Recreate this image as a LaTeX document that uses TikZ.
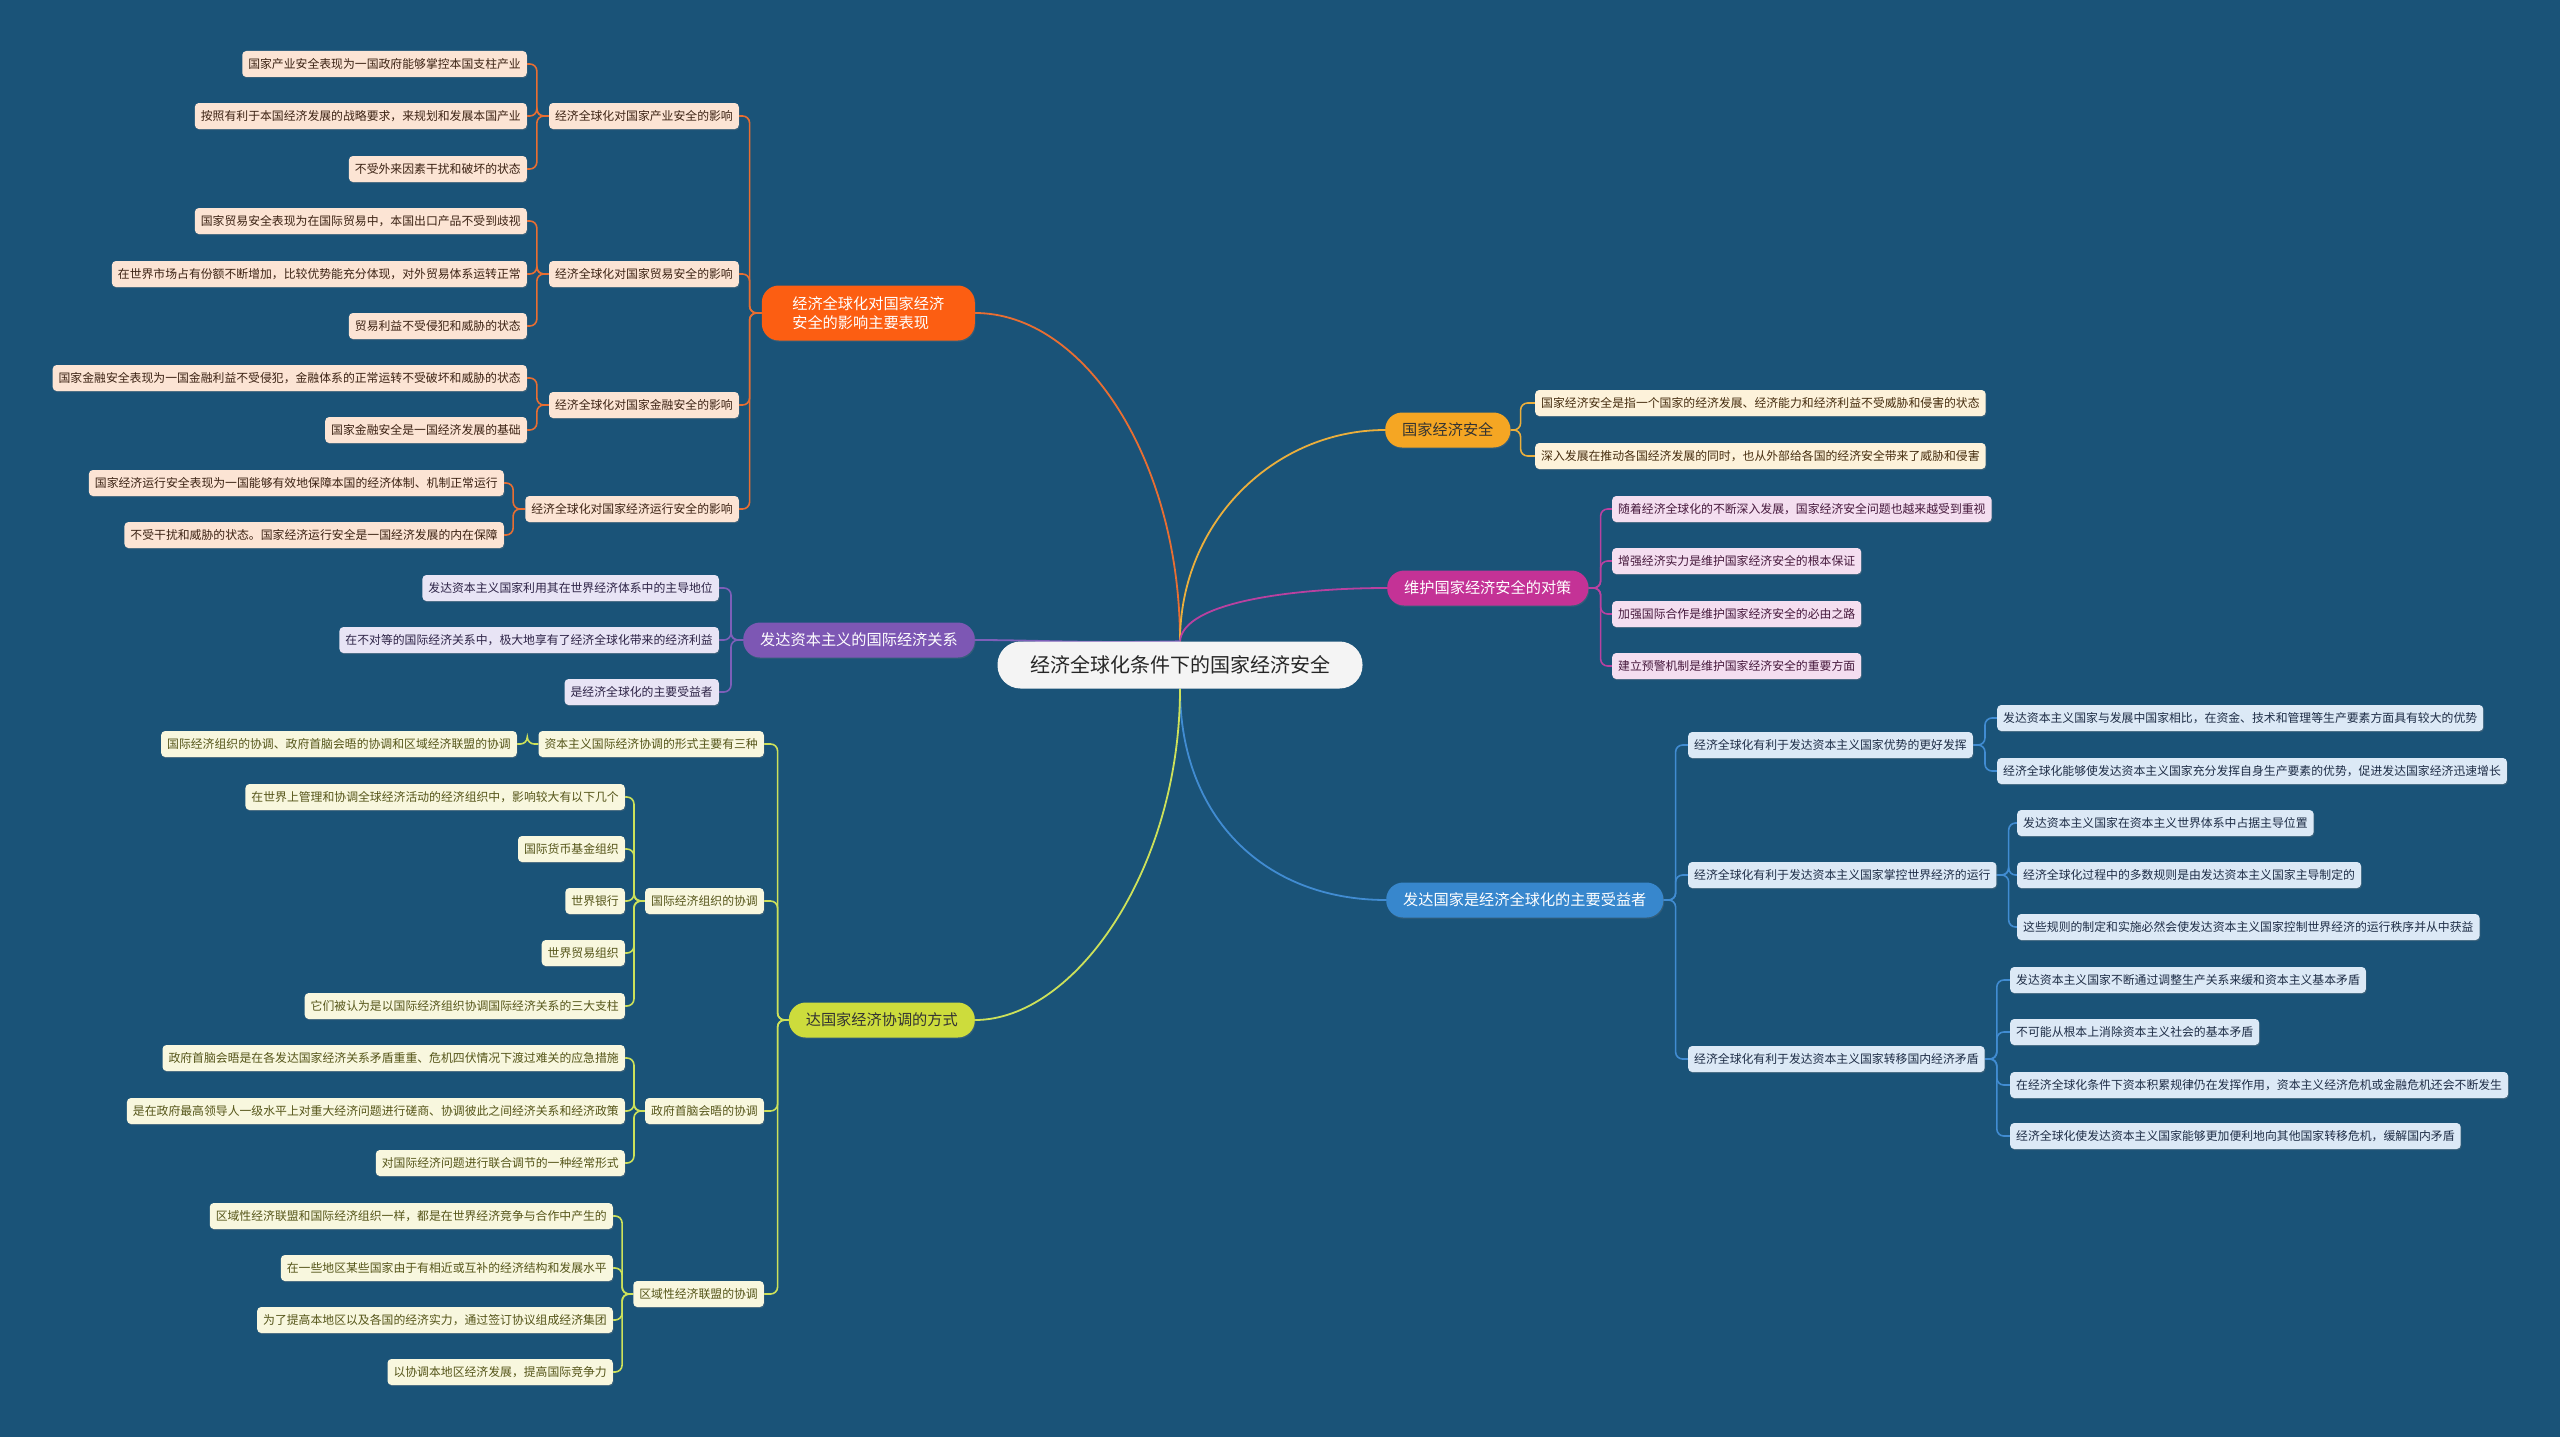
\documentclass[tikz,border=0pt]{standalone}
\usepackage{fontspec}
\usepackage{tikz}
\usetikzlibrary{positioning,shadows,backgrounds}
\newfontfamily\cjk{Noto Sans CJK SC}
\definecolor{bgc}{RGB}{26,83,120}
\definecolor{rootc}{RGB}{244,244,244}
\definecolor{ocol}{RGB}{252,94,18}
\definecolor{oline}{RGB}{232,110,50}
\definecolor{ofill}{RGB}{252,228,212}
\definecolor{otext}{RGB}{60,35,20}
\definecolor{ycol}{RGB}{245,166,35}
\definecolor{yline}{RGB}{235,175,60}
\definecolor{yfill}{RGB}{253,242,218}
\definecolor{ytext}{RGB}{70,45,15}
\definecolor{mcol}{RGB}{196,50,150}
\definecolor{mline}{RGB}{185,65,160}
\definecolor{mfill}{RGB}{244,222,240}
\definecolor{mtext}{RGB}{70,25,60}
\definecolor{bcol}{RGB}{55,135,205}
\definecolor{bline}{RGB}{65,140,210}
\definecolor{bfill}{RGB}{220,233,246}
\definecolor{btext}{RGB}{30,45,70}
\definecolor{pcol}{RGB}{125,87,180}
\definecolor{pline}{RGB}{125,95,185}
\definecolor{pfill}{RGB}{232,228,245}
\definecolor{ptext}{RGB}{45,35,70}
\definecolor{gcol}{RGB}{205,220,60}
\definecolor{gline}{RGB}{205,225,90}
\definecolor{gfill}{RGB}{248,247,222}
\definecolor{gtext}{RGB}{85,85,25}
\tikzset{
root/.style={
fill=rootc,
rounded corners=23pt,
minimum width=365pt,
minimum height=47pt,
text=black!85,
font=\cjk\fontsize{20}{24}\selectfont
},
topic/.style={
fill=#1,
rounded corners=17pt,
minimum height=35pt,
inner xsep=17pt,
align=left,
font=\cjk\fontsize{15.2}{19}\selectfont,
drop shadow={opacity=0.25,shadow xshift=0.8pt,shadow yshift=-1.2pt}
},
leaf/.style={
fill=#1,
rounded corners=4pt,
minimum height=26pt,
inner xsep=6pt,
inner ysep=0pt,
font=\cjk\fontsize{11.85}{14}\selectfont,
drop shadow={opacity=0.3,shadow xshift=0.8pt,shadow yshift=-1.2pt}
},
leafo/.style={leaf=ofill,text=otext},
leafy/.style={leaf=yfill,text=ytext},
leafm/.style={leaf=mfill,text=mtext},
leafb/.style={leaf=bfill,text=btext},
leafp/.style={leaf=pfill,text=ptext},
leafg/.style={leaf=gfill,text=gtext},
link/.style={
draw=#1,
line width=1.6pt,
rounded corners=7pt
},
branch/.style={
draw=#1,
line width=1.8pt
}
}

\begin{document}
\begin{tikzpicture}[x=1pt,y=-1pt]

\useasboundingbox (0,0) rectangle (2560,1437);

\node[root](root) at (1180,665){经济全球化条件下的国家经济安全};

\node[topic=ocol,text=white,anchor=east,minimum width=213pt,minimum height=55pt](ta) at (975,313){经济全球化对国家经济\\安全的影响主要表现};
\node[topic=ycol,text=black!80,anchor=west](tb) at (1385,430){国家经济安全};
\node[topic=mcol,text=white,anchor=west](tc) at (1387,588){维护国家经济安全的对策};
\node[topic=bcol,text=white,anchor=west](td) at (1386,900){发达国家是经济全球化的主要受益者};
\node[topic=pcol,text=white,anchor=east](te) at (975,640){发达资本主义的国际经济关系};
\node[topic=gcol,text=black!80,anchor=east](tf) at (975,1020){达国家经济协调的方式};

\node[leafo,anchor=east](a1) at (739,116){经济全球化对国家产业安全的影响};
\node[leafo,anchor=east](a2) at (739,274){经济全球化对国家贸易安全的影响};
\node[leafo,anchor=east](a3) at (739,405){经济全球化对国家金融安全的影响};
\node[leafo,anchor=east](a4) at (739,509){经济全球化对国家经济运行安全的影响};
\node[leafo,anchor=east](a11) at (527,64){国家产业安全表现为一国政府能够掌控本国支柱产业};
\node[leafo,anchor=east](a12) at (527,116){按照有利于本国经济发展的战略要求，来规划和发展本国产业};
\node[leafo,anchor=east](a13) at (527,169){不受外来因素干扰和破坏的状态};
\node[leafo,anchor=east](a21) at (527,221){国家贸易安全表现为在国际贸易中，本国出口产品不受到歧视};
\node[leafo,anchor=east](a22) at (527,274){在世界市场占有份额不断增加，比较优势能充分体现，对外贸易体系运转正常};
\node[leafo,anchor=east](a23) at (527,326){贸易利益不受侵犯和威胁的状态};
\node[leafo,anchor=east](a31) at (527,378){国家金融安全表现为一国金融利益不受侵犯，金融体系的正常运转不受破坏和威胁的状态};
\node[leafo,anchor=east](a32) at (527,430){国家金融安全是一国经济发展的基础};
\node[leafo,anchor=east](a41) at (504,483){国家经济运行安全表现为一国能够有效地保障本国的经济体制、机制正常运行};
\node[leafo,anchor=east](a42) at (504,535){不受干扰和威胁的状态。国家经济运行安全是一国经济发展的内在保障};

\node[leafy,anchor=west](b1) at (1535,403){国家经济安全是指一个国家的经济发展、经济能力和经济利益不受威胁和侵害的状态};
\node[leafy,anchor=west](b2) at (1535,456){深入发展在推动各国经济发展的同时，也从外部给各国的经济安全带来了威胁和侵害};

\node[leafm,anchor=west](c1) at (1612,509){随着经济全球化的不断深入发展，国家经济安全问题也越来越受到重视};
\node[leafm,anchor=west](c2) at (1612,561){增强经济实力是维护国家经济安全的根本保证};
\node[leafm,anchor=west](c3) at (1612,614){加强国际合作是维护国家经济安全的必由之路};
\node[leafm,anchor=west](c4) at (1612,666){建立预警机制是维护国家经济安全的重要方面};

\node[leafb,anchor=west](d1) at (1688,745){经济全球化有利于发达资本主义国家优势的更好发挥};
\node[leafb,anchor=west](d2) at (1688,875){经济全球化有利于发达资本主义国家掌控世界经济的运行};
\node[leafb,anchor=west](d3) at (1688,1059){经济全球化有利于发达资本主义国家转移国内经济矛盾};
\node[leafb,anchor=west](d11) at (1997,718){发达资本主义国家与发展中国家相比，在资金、技术和管理等生产要素方面具有较大的优势};
\node[leafb,anchor=west](d12) at (1997,771){经济全球化能够使发达资本主义国家充分发挥自身生产要素的优势，促进发达国家经济迅速增长};
\node[leafb,anchor=west](d21) at (2017,823){发达资本主义国家在资本主义世界体系中占据主导位置};
\node[leafb,anchor=west](d22) at (2017,875){经济全球化过程中的多数规则是由发达资本主义国家主导制定的};
\node[leafb,anchor=west](d23) at (2017,927){这些规则的制定和实施必然会使发达资本主义国家控制世界经济的运行秩序并从中获益};
\node[leafb,anchor=west](d31) at (2010,980){发达资本主义国家不断通过调整生产关系来缓和资本主义基本矛盾};
\node[leafb,anchor=west](d32) at (2010,1032){不可能从根本上消除资本主义社会的基本矛盾};
\node[leafb,anchor=west](d33) at (2010,1085){在经济全球化条件下资本积累规律仍在发挥作用，资本主义经济危机或金融危机还会不断发生};
\node[leafb,anchor=west](d34) at (2010,1136){经济全球化使发达资本主义国家能够更加便利地向其他国家转移危机，缓解国内矛盾};

\node[leafp,anchor=east](e1) at (719,588){发达资本主义国家利用其在世界经济体系中的主导地位};
\node[leafp,anchor=east](e2) at (719,640){在不对等的国际经济关系中，极大地享有了经济全球化带来的经济利益};
\node[leafp,anchor=east](e3) at (719,692){是经济全球化的主要受益者};

\node[leafg,anchor=east](f1) at (764,744){资本主义国际经济协调的形式主要有三种};
\node[leafg,anchor=east](f2) at (764,901){国际经济组织的协调};
\node[leafg,anchor=east](f3) at (764,1111){政府首脑会晤的协调};
\node[leafg,anchor=east](f4) at (764,1294){区域性经济联盟的协调};
\node[leafg,anchor=east](f11) at (517,744){国际经济组织的协调、政府首脑会晤的协调和区域经济联盟的协调};
\node[leafg,anchor=east](f21) at (625,797){在世界上管理和协调全球经济活动的经济组织中，影响较大有以下几个};
\node[leafg,anchor=east](f22) at (625,849){国际货币基金组织};
\node[leafg,anchor=east](f23) at (625,901){世界银行};
\node[leafg,anchor=east](f24) at (625,953){世界贸易组织};
\node[leafg,anchor=east](f25) at (625,1006){它们被认为是以国际经济组织协调国际经济关系的三大支柱};
\node[leafg,anchor=east](f31) at (625,1058){政府首脑会晤是在各发达国家经济关系矛盾重重、危机四伏情况下渡过难关的应急措施};
\node[leafg,anchor=east](f32) at (625,1111){是在政府最高领导人一级水平上对重大经济问题进行磋商、协调彼此之间经济关系和经济政策};
\node[leafg,anchor=east](f33) at (625,1163){对国际经济问题进行联合调节的一种经常形式};
\node[leafg,anchor=east](f41) at (613,1216){区域性经济联盟和国际经济组织一样，都是在世界经济竞争与合作中产生的};
\node[leafg,anchor=east](f42) at (613,1268){在一些地区某些国家由于有相近或互补的经济结构和发展水平};
\node[leafg,anchor=east](f43) at (613,1320){为了提高本地区以及各国的经济实力，通过签订协议组成经济集团};
\node[leafg,anchor=east](f44) at (613,1372){以协调本地区经济发展，提高国际竞争力};

\begin{scope}[on background layer]
\fill[bgc] (0,0) rectangle (2560,1437);

\draw[branch=oline](root.north) .. controls +(0,-180) and +(110,0) .. (ta.east);
\draw[branch=yline](root.north) .. controls +(0,-120) and +(-110,0) .. (tb.west);
\draw[branch=mline](root.north) .. controls +(3,-40) and +(-90,0) .. (tc.west);
\draw[branch=pline](root.north) .. controls +(-100,2) and +(60,0) .. (te.east);
\draw[branch=bline](root.south) .. controls +(0,130) and +(-120,0) .. (td.west);
\draw[branch=gline](root.south) .. controls +(0,180) and +(100,0) .. (tf.east);

\foreach \x/\y in {ta/a1,ta/a2,ta/a3,ta/a4,a1/a11,a1/a12,a1/a13,a2/a21,a2/a22,a2/a23,a3/a31,a3/a32,a4/a41,a4/a42}
\draw[link=oline](\x.west)--++(-12,0)|-(\y.east);
\foreach \x/\y in {tb/b1,tb/b2}
\draw[link=yline](\x.east)--++(10,0)|-(\y.west);
\foreach \x/\y in {tc/c1,tc/c2,tc/c3,tc/c4}
\draw[link=mline](\x.east)--++(12,0)|-(\y.west);
\foreach \x/\y in {td/d1,td/d2,td/d3,d1/d11,d1/d12,d2/d21,d2/d22,d2/d23,d3/d31,d3/d32,d3/d33,d3/d34}
\draw[link=bline](\x.east)--++(12,0)|-(\y.west);
\foreach \x/\y in {te/e1,te/e2,te/e3}
\draw[link=pline](\x.west)--++(-12,0)|-(\y.east);
\foreach \x/\y in {tf/f1,tf/f2,tf/f3,tf/f4,f1/f11,f2/f21,f2/f22,f2/f23,f2/f24,f2/f25,f3/f31,f3/f32,f3/f33,f4/f41,f4/f42,f4/f43,f4/f44}
\draw[link=gline](\x.west)--++(-11,0)|-(\y.east);
\end{scope}

\end{tikzpicture}
\end{document}
